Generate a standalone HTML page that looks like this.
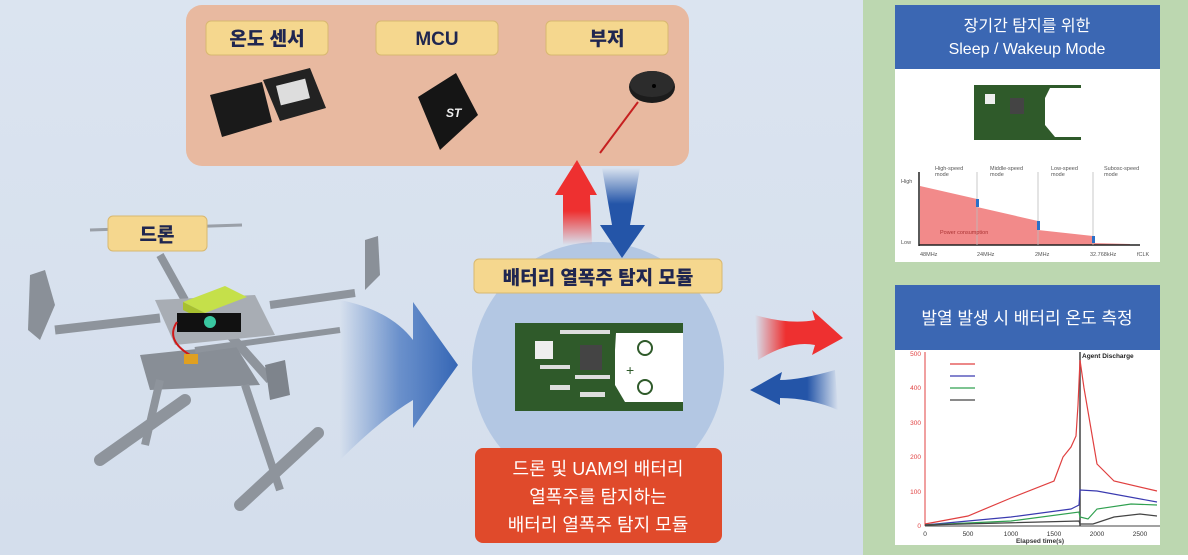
<!DOCTYPE html>
<html><head><meta charset="utf-8"><style>
html,body{margin:0;padding:0}
body{width:1188px;height:555px;overflow:hidden;font-family:"Liberation Sans","Noto Sans CJK KR",sans-serif}
</style></head><body>
<svg width="1188" height="555" viewBox="0 0 1188 555" xmlns="http://www.w3.org/2000/svg" font-family="Liberation Sans, Noto Sans CJK KR, sans-serif">
<defs>
<linearGradient id="bg" x1="0" y1="0" x2="0" y2="1"><stop offset="0" stop-color="#dbe4f0"/><stop offset="1" stop-color="#d4deec"/></linearGradient>
<linearGradient id="bArr" x1="0" y1="0" x2="1" y2="0"><stop offset="0" stop-color="#3d6fbd" stop-opacity="0"/><stop offset="0.5" stop-color="#3d6fbd" stop-opacity="0.7"/><stop offset="1" stop-color="#3566b5"/></linearGradient>
<linearGradient id="rR" x1="0" y1="0" x2="1" y2="0"><stop offset="0" stop-color="#ee3030" stop-opacity="0"/><stop offset="0.35" stop-color="#ee3030"/><stop offset="1" stop-color="#ee3030"/></linearGradient>
<linearGradient id="bL" x1="1" y1="0" x2="0" y2="0"><stop offset="0" stop-color="#2455a8" stop-opacity="0"/><stop offset="0.35" stop-color="#2455a8"/><stop offset="1" stop-color="#2455a8"/></linearGradient>
<linearGradient id="rU" x1="0" y1="1" x2="0" y2="0"><stop offset="0" stop-color="#ee3030" stop-opacity="0"/><stop offset="0.4" stop-color="#ee3030"/><stop offset="1" stop-color="#ee3030"/></linearGradient>
<linearGradient id="bD" x1="0" y1="0" x2="0" y2="1"><stop offset="0" stop-color="#2455a8" stop-opacity="0"/><stop offset="0.4" stop-color="#2455a8"/><stop offset="1" stop-color="#2455a8"/></linearGradient>
</defs>
<rect width="1188" height="555" fill="url(#bg)"/>
<rect x="863" y="0" width="325" height="555" fill="#bcd7b0"/>

<rect x="186" y="5" width="503" height="161" rx="16" fill="#e8b9a0"/>
<g font-weight="900" font-size="19" fill="#1f2650" text-anchor="middle">
<rect x="206" y="21" width="122" height="34" rx="5" fill="#f5d78e" stroke="#d8b870"/>
<text x="267" y="45">온도 센서</text>
<rect x="376" y="21" width="122" height="34" rx="5" fill="#f5d78e" stroke="#d8b870"/>
<text x="437" y="45">MCU</text>
<rect x="546" y="21" width="122" height="34" rx="5" fill="#f5d78e" stroke="#d8b870"/>
<text x="607" y="45">부저</text>
</g>
<polygon points="210,95 262,82 272,122 222,137" fill="#1a1a1a"/>
<polygon points="263,80 310,68 326,108 280,121" fill="#222"/>
<rect x="278" y="82" width="30" height="20" fill="#ddd" transform="rotate(-14 293 92)"/>
<polygon points="418,97 456,73 478,115 440,150" fill="#151515"/>
<text x="446" y="117" fill="#eee" font-size="12" font-weight="bold" font-style="italic">ST</text>
<ellipse cx="652" cy="87" rx="23" ry="16" fill="#1c1c1c"/>
<ellipse cx="652" cy="84" rx="22" ry="13" fill="#2c2c2c"/>
<circle cx="654" cy="86" r="2" fill="#000"/>
<line x1="638" y1="102" x2="600" y2="153" stroke="#c62020" stroke-width="2"/>

<!-- drone -->
<g fill="#9aa0a8" stroke="none">
<line x1="90" y1="230" x2="242" y2="225" stroke="#9aa0a8" stroke-width="3"/>
<line x1="160" y1="255" x2="185" y2="300" stroke="#8e949c" stroke-width="8"/>
<line x1="55" y1="330" x2="160" y2="318" stroke="#8e949c" stroke-width="9"/>
<line x1="270" y1="305" x2="355" y2="293" stroke="#8e949c" stroke-width="8"/>
<line x1="230" y1="335" x2="270" y2="380" stroke="#8e949c" stroke-width="9"/>
<polygon points="30,275 45,270 55,305 40,340 28,330" fill="#8a9098"/>
<polygon points="365,240 378,236 380,275 365,290" fill="#8a9098"/>
<polygon points="155,300 255,295 275,335 175,345" fill="#a8adb4"/>
<polygon points="140,355 235,345 260,385 150,390" fill="#888e96"/>
<line x1="195" y1="350" x2="340" y2="330" stroke="#8e949c" stroke-width="6"/>
<line x1="160" y1="380" x2="145" y2="445" stroke="#8e949c" stroke-width="8"/>
<line x1="245" y1="385" x2="280" y2="490" stroke="#8e949c" stroke-width="8"/>
<line x1="100" y1="460" x2="185" y2="400" stroke="#8e949c" stroke-width="12" stroke-linecap="round"/>
<line x1="240" y1="505" x2="318" y2="433" stroke="#8e949c" stroke-width="12" stroke-linecap="round"/>
<polygon points="265,365 285,360 290,395 270,400" fill="#7e848c"/>
</g>
<polygon points="183,302 225,286 247,297 205,313" fill="#c5e04a"/>
<polygon points="183,302 205,313 205,321 183,310" fill="#a8c030"/>
<rect x="177" y="313" width="64" height="19" fill="#111"/>
<circle cx="210" cy="322" r="6" fill="#39c7a0"/>
<path d="M177,322 Q165,340 190,355" stroke="#d01818" stroke-width="2" fill="none"/>
<rect x="184" y="354" width="14" height="10" fill="#e0a020"/>
<rect x="108" y="216" width="99" height="35" rx="5" fill="#f5d78e" stroke="#d8b870"/>
<text x="157" y="241" text-anchor="middle" font-weight="900" font-size="19" fill="#1f2650">드론</text>

<path d="M340,300 Q390,310 413,340 L413,302 L458,365 L413,428 L413,400 Q380,420 340,460 Z" fill="url(#bArr)"/>

<circle cx="598" cy="368" r="126" fill="#b3c7e3"/>
<path d="M563,245 L563,195 L555,195 L577,160 L597,195 L590,195 L592,245 Z" fill="url(#rU)"/>
<path d="M602,168 L640,168 L630,225 L645,225 L622,258 L600,225 L612,225 Z" fill="url(#bD)"/>
<rect x="474" y="259" width="248" height="34" rx="5" fill="#f5d78e" stroke="#d8b870"/>
<text x="598" y="284" text-anchor="middle" font-weight="900" font-size="19" fill="#1f2650">배터리 열폭주 탐지 모듈</text>
<rect x="515" y="323" width="168" height="88" fill="#2f5a2a"/>
<path d="M616,333 L683,333 L683,402 L625,402 L615,385 L615,350 Z" fill="#fff"/>
<rect x="535" y="341" width="18" height="18" fill="#eee"/>
<rect x="580" y="345" width="22" height="25" fill="#444"/>
<g fill="#ddd"><rect x="560" y="330" width="50" height="4"/><rect x="540" y="365" width="30" height="4"/><rect x="575" y="375" width="35" height="4"/><rect x="550" y="385" width="20" height="5"/><rect x="580" y="392" width="25" height="5"/></g>
<text x="626" y="375" fill="#2f5a2a" font-size="14">+</text>
<circle cx="645" cy="348" r="7" fill="none" stroke="#2f5a2a" stroke-width="2"/>
<circle cx="645" cy="387" r="7" fill="none" stroke="#2f5a2a" stroke-width="2"/>
<rect x="475" y="448" width="247" height="95" rx="8" fill="#e04a2b"/>
<g fill="#fff" font-size="18" text-anchor="middle">
<text x="598" y="475">드론 및 UAM의 배터리</text>
<text x="598" y="503">열폭주를 탐지하는</text>
<text x="598" y="531">배터리 열폭주 탐지 모듈</text>
</g>
<path d="M755,315 Q790,325 815,320 L812,310 L843,338 L812,355 L815,345 Q790,340 758,360 Z" fill="url(#rR)"/>
<path d="M835,370 Q800,380 780,380 L782,372 L750,390 L780,405 L780,398 Q810,398 838,410 Z" fill="url(#bL)"/>

<rect x="895" y="5" width="265" height="257" fill="#fff"/>
<rect x="895" y="5" width="265" height="64" fill="#3b67b3"/>
<g fill="#fff" font-size="16" text-anchor="middle">
<text x="1027" y="31">장기간 탐지를 위한</text>
<text x="1027" y="54">Sleep / Wakeup Mode</text>
</g>
<rect x="974" y="85" width="107" height="55" fill="#2f5a2a"/>
<path d="M1050,88 L1081,88 L1081,137 L1055,137 L1045,125 L1045,98 Z" fill="#fff"/>
<rect x="985" y="94" width="10" height="10" fill="#eee"/>
<rect x="1010" y="98" width="14" height="16" fill="#444"/>
<path d="M920,186 L977,199 L977,207 L1038,221 L1038,230 L1093,236 L1093,243 L1130,244 L1130,245 L920,245 Z" fill="#f28a8a"/>
<line x1="919" y1="172" x2="919" y2="246" stroke="#222" stroke-width="1.5"/>
<line x1="919" y1="245" x2="1140" y2="245" stroke="#222" stroke-width="1.5"/>
<g stroke="#bbb" stroke-width="0.8"><line x1="977" y1="172" x2="977" y2="245"/><line x1="1038" y1="172" x2="1038" y2="245"/><line x1="1093" y1="172" x2="1093" y2="245"/></g>
<g fill="#2a70c8"><rect x="976" y="199" width="3" height="8"/><rect x="1037" y="221" width="3" height="9"/><rect x="1092" y="236" width="3" height="7"/></g>
<g font-size="5.5" fill="#555">
<text x="935" y="170">High-speed</text><text x="935" y="176">mode</text>
<text x="990" y="170">Middle-speed</text><text x="990" y="176">mode</text>
<text x="1051" y="170">Low-speed</text><text x="1051" y="176">mode</text>
<text x="1104" y="170">Subosc-speed</text><text x="1104" y="176">mode</text>
<text x="901" y="183">High</text><text x="901" y="244">Low</text>
<text x="920" y="256">48MHz</text><text x="977" y="256">24MHz</text><text x="1035" y="256">2MHz</text><text x="1090" y="256">32.768kHz</text><text x="1137" y="256">fCLK</text>
<text x="940" y="234" fill="#a33">Power consumption</text>
</g>

<rect x="895" y="285" width="265" height="260" fill="#fff"/>
<rect x="895" y="285" width="265" height="65" fill="#3b67b3"/>
<text x="1027" y="324" fill="#fff" font-size="17" text-anchor="middle">발열 발생 시 배터리 온도 측정</text>
<line x1="925" y1="352" x2="925" y2="526" stroke="#e04040" stroke-width="1"/>
<line x1="925" y1="526" x2="1160" y2="526" stroke="#444" stroke-width="1"/>
<line x1="1080" y1="352" x2="1080" y2="526" stroke="#444" stroke-width="1.5"/>
<g font-size="6.5" fill="#e04040" text-anchor="end">
<text x="921" y="356">500</text><text x="921" y="390">400</text><text x="921" y="425">300</text><text x="921" y="459">200</text><text x="921" y="494">100</text><text x="921" y="528">0</text>
</g>
<g font-size="6.5" fill="#333" text-anchor="middle">
<text x="925" y="536">0</text><text x="968" y="536">500</text><text x="1011" y="536">1000</text><text x="1054" y="536">1500</text><text x="1097" y="536">2000</text><text x="1140" y="536">2500</text>
<text x="1040" y="543" font-weight="bold">Elapsed time(s)</text>
</g>
<text x="1082" y="358" font-size="6.5" font-weight="bold" fill="#222">Agent Discharge</text>
<g stroke-width="1.2" fill="none">
<line x1="950" y1="364" x2="975" y2="364" stroke="#e04040"/>
<line x1="950" y1="376" x2="975" y2="376" stroke="#3a3ab0"/>
<line x1="950" y1="388" x2="975" y2="388" stroke="#30a050"/>
<line x1="950" y1="400" x2="975" y2="400" stroke="#444"/>
<polyline stroke="#e04040" points="925,524 968,516 1011,498 1054,481 1063,457 1071,447 1076,436 1078,405 1080,360 1084,388 1097,464 1114,481 1157,491"/>
<polyline stroke="#3a3ab0" points="925,525 1011,517 1071,509 1079,505 1080,490 1097,491 1157,502"/>
<polyline stroke="#30a050" points="925,525 1011,521 1079,512 1080,517 1088,519 1097,509 1131,504 1157,505"/>
<polyline stroke="#444" points="925,525 1079,521 1080,524 1093,524 1114,517 1140,514 1157,516"/>
</g>
</svg>
</body></html>
